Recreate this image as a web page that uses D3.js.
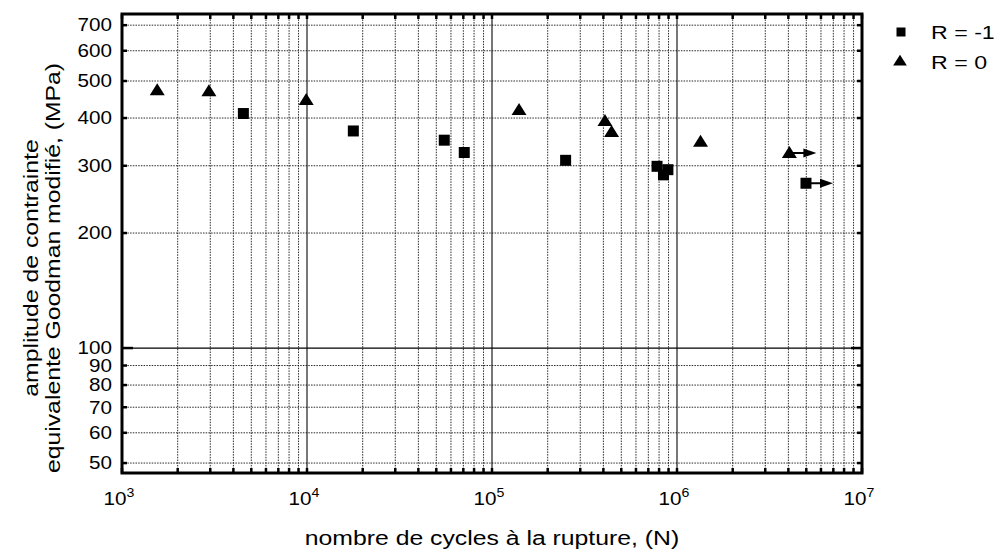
<!DOCTYPE html>
<html>
<head>
<meta charset="utf-8">
<script src="https://cdn.jsdelivr.net/npm/d3@7"></script>
<style>
  html, body { margin: 0; padding: 0; background: #fff; }
  svg { display: block; }
  text { font-family: "Liberation Sans", Arial, Helvetica, sans-serif; fill: #000; }
</style>
</head>
<body>
<svg id="chart" width="1004" height="550"></svg>
<script>
// Fatigue data: cycles to failure vs. equivalent stress amplitude (modified Goodman)
const cyclesRm1 = [4530, 17800, 55200, 70800, 250000, 780000, 893000, 845000, 4980000];
const stressRm1 = [411, 370, 350, 325, 310, 299, 293, 284, 270];
const runoutRm1 = [false, false, false, false, false, false, false, false, true];

const cyclesR0 = [1550, 2950, 9900, 140000, 408000, 443000, 1340000, 4050000];
const stressR0 = [473, 470, 446, 420, 393, 368, 347, 324];
const runoutR0 = [false, false, false, false, false, false, false, true];

const yTickValues = [50, 60, 70, 80, 90, 100, 200, 300, 400, 500, 600, 700];
const yTickLabels = ["50", "60", "70", "80", "90", "100", "200", "300", "400", "500", "600", "700"];
const xDecades = [1e3, 1e4, 1e5, 1e6, 1e7];
const xDecadeExponents = ["3", "4", "5", "6", "7"];
const legendLabels = ["R = -1", "R = 0"];

const xTitle = "nombre de cycles à la rupture, (N)";
const yTitle1 = "amplitude de contrainte";
const yTitle2 = "equivalente Goodman modifié, (MPa)";

const svg = d3.select("#chart");
const L = 122, R = 862, T = 14, B = 473;
const x = d3.scaleLog().domain([1e3, 1e7]).range([L, R]);
const y = d3.scaleLog().domain([47.09, 748.8]).range([B, T]);
const SX = 1.18; // horizontal stretch of the lettering

// minor x positions: 1..9 x each decade
const xMinor = [];
for (let d = 3; d < 7; d++) for (let k = 1; k < 10; k++) xMinor.push(k * Math.pow(10, d));
xMinor.push(1e7);
const isDecade = v => Math.abs(Math.log10(v) - Math.round(Math.log10(v))) < 1e-9;

const grid = svg.append("g");
// vertical grid
grid.selectAll("line.vg").data(xMinor.filter(v => v > 1e3 && v < 1e7)).join("line")
  .attr("x1", d => x(d)).attr("x2", d => x(d)).attr("y1", T).attr("y2", B)
  .attr("stroke", d => isDecade(d) ? "#777" : "#111")
  .attr("stroke-width", d => isDecade(d) ? 2 : 0.9)
  .attr("stroke-dasharray", d => isDecade(d) ? null : "1.5,1.2");
// horizontal grid
grid.selectAll("line.hg").data(yTickValues).join("line")
  .attr("x1", L).attr("x2", R).attr("y1", d => y(d)).attr("y2", d => y(d))
  .attr("stroke", d => d === 100 ? "#000" : "#111")
  .attr("stroke-width", d => d === 100 ? 1.3 : 0.9)
  .attr("stroke-dasharray", d => d === 100 ? null : "1.5,1.2");

// ticks
const ticks = svg.append("g").attr("stroke", "#000").attr("stroke-width", 2.5);
yTickValues.forEach(v => {
  const len = v === 100 ? 11 : 5;
  ticks.append("line").attr("x1", L).attr("x2", L + len).attr("y1", y(v)).attr("y2", y(v));
  ticks.append("line").attr("x1", R).attr("x2", R - len).attr("y1", y(v)).attr("y2", y(v));
});
xMinor.forEach(v => {
  ticks.append("line").attr("x1", x(v)).attr("x2", x(v)).attr("y1", B).attr("y2", B - 5);
  ticks.append("line").attr("x1", x(v)).attr("x2", x(v)).attr("y1", T).attr("y2", T + 5);
});

// frame
svg.append("rect").attr("x", L).attr("y", T).attr("width", R - L).attr("height", B - T)
  .attr("fill", "none").attr("stroke", "#000").attr("stroke-width", 3);

// y tick labels
yTickValues.forEach((v, i) => {
  svg.append("text")
    .attr("transform", `translate(112,${y(v) + 6.3}) scale(${SX},1)`)
    .attr("text-anchor", "end").attr("font-size", 17.5)
    .text(yTickLabels[i]);
});

// x tick labels 10^n
xDecades.forEach((v, i) => {
  const t = svg.append("text")
    .attr("transform", `translate(${x(v) - 3},505) scale(${SX},1)`)
    .attr("text-anchor", "middle").attr("font-size", 17.5);
  t.append("tspan").text("10");
  t.append("tspan").attr("font-size", 12).attr("dy", -8).text(xDecadeExponents[i]);
});

// axis titles
svg.append("text")
  .attr("transform", `translate(492,545) scale(${SX},1)`)
  .attr("text-anchor", "middle").attr("font-size", 21)
  .text(xTitle);
svg.append("text")
  .attr("transform", `translate(38,268) rotate(-90) scale(${SX},1)`)
  .attr("text-anchor", "middle").attr("font-size", 21)
  .text(yTitle1);
svg.append("text")
  .attr("transform", `translate(60,268) rotate(-90) scale(${SX},1)`)
  .attr("text-anchor", "middle").attr("font-size", 21)
  .text(yTitle2);

// markers: filled square and a wide, flat triangle
const flatTriangle = {
  draw(ctx, size) {
    const w = Math.sqrt(size * 1.25), h = w * 0.8;
    ctx.moveTo(0, -h * 0.58);
    ctx.lineTo(w / 2, h * 0.42);
    ctx.lineTo(-w / 2, h * 0.42);
    ctx.closePath();
  }
};
const sq = d3.symbol().type(d3.symbolSquare).size(121);
const tri = d3.symbol().type(flatTriangle).size(180);

function arrow(g, cx, cy) {
  g.append("line").attr("x1", cx).attr("x2", cx + 18).attr("y1", cy).attr("y2", cy)
    .attr("stroke", "#000").attr("stroke-width", 2);
  g.append("path").attr("d", `M${cx + 14},${cy - 4.5}L${cx + 27},${cy}L${cx + 14},${cy + 4.5}Z`)
    .attr("fill", "#000");
}

const marks = svg.append("g");
cyclesRm1.forEach((n, i) => {
  const cx = x(n), cy = y(stressRm1[i]);
  if (runoutRm1[i]) arrow(marks, cx, cy);
  marks.append("path").attr("d", sq).attr("transform", `translate(${cx},${cy})`).attr("fill", "#000");
});
cyclesR0.forEach((n, i) => {
  const cx = x(n), cy = y(stressR0[i]);
  if (runoutR0[i]) arrow(marks, cx, cy);
  marks.append("path").attr("d", tri).attr("transform", `translate(${cx},${cy})`).attr("fill", "#000");
});

// legend
const lg = svg.append("g");
lg.append("path").attr("d", d3.symbol().type(d3.symbolSquare).size(81)).attr("transform", "translate(901,32)").attr("fill", "#000");
lg.append("path").attr("d", d3.symbol().type(flatTriangle).size(150)).attr("transform", "translate(900,61)").attr("fill", "#000");
legendLabels.forEach((s, i) => {
  lg.append("text").attr("transform", `translate(931,${38.5 + i * 30}) scale(1.22,1)`)
    .attr("font-size", 19).text(s);
});
</script>
</body>
</html>
